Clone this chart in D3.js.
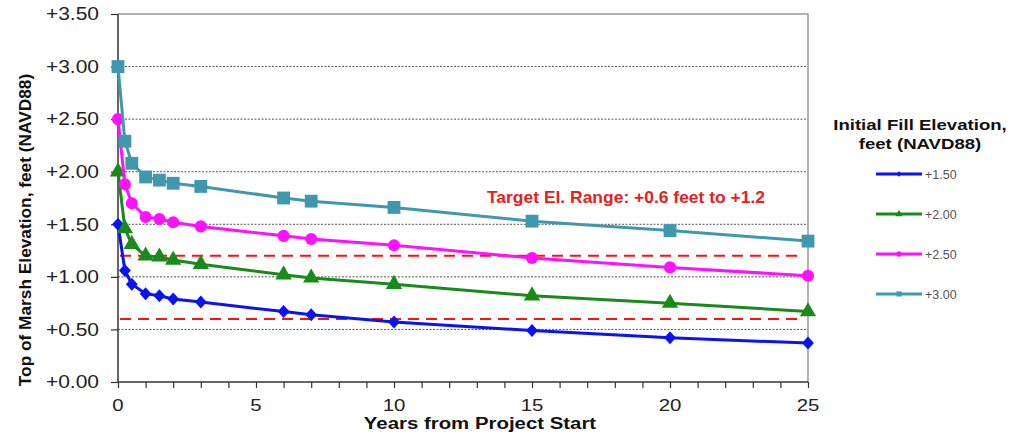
<!DOCTYPE html>
<html><head><meta charset="utf-8">
<script src="https://cdn.jsdelivr.net/npm/d3@7"></script>
<style>
html,body{margin:0;padding:0;background:#fff;}
svg{display:block;font-family:"Liberation Sans",Arial,sans-serif;}
</style></head>
<body>
<svg id="chart" width="1011" height="434"></svg>
<script>
const years = [0, 0.25, 0.5, 1, 1.5, 2, 3, 6, 7, 10, 15, 20, 25];
const fill150 = [1.50, 1.06, 0.93, 0.84, 0.82, 0.79, 0.76, 0.67, 0.64, 0.57, 0.49, 0.42, 0.37];
const fill200 = [2.00, 1.46, 1.31, 1.20, 1.19, 1.16, 1.12, 1.02, 0.99, 0.93, 0.82, 0.75, 0.67];
const fill250 = [2.50, 1.88, 1.70, 1.57, 1.55, 1.52, 1.48, 1.39, 1.36, 1.30, 1.18, 1.09, 1.01];
const fill300 = [3.00, 2.29, 2.08, 1.95, 1.92, 1.89, 1.86, 1.75, 1.72, 1.66, 1.53, 1.44, 1.34];
const seriesNames = ["+1.50", "+2.00", "+2.50", "+3.00"];
const targetLevels = [0.6, 1.2];
const yTicks = [0, 0.5, 1, 1.5, 2, 2.5, 3, 3.5];
const xTicks = [0, 5, 10, 15, 20, 25];
const annotation = "Target El. Range: +0.6 feet to +1.2";
const xTitle = "Years from Project Start";
const yTitle = "Top of Marsh Elevation, feet (NAVD88)";
const legendTitle = ["Initial Fill Elevation,", "feet (NAVD88)"];

const seriesData = [fill150, fill200, fill250, fill300];
const colors = ["#0a14f0", "#1a8a1a", "#ff10ff", "#3f98ae"];
const shapes = [d3.symbolSquare, d3.symbolTriangle, d3.symbolCircle, d3.symbolSquare];
const sizes = [70, 115, 115, 165];
const legendSizes = [14, 24, 24, 26];
const SX = 1.2;

const svg = d3.select("#chart");
const x = d3.scaleLinear().domain([0, 25]).range([118, 808]);
const y = d3.scaleLinear().domain([0, 3.5]).range([382, 14]);

// gridlines
svg.append("g").selectAll("line").data(yTicks.filter(v => v > 0 && v < 3.5)).join("line")
  .attr("x1", x(0)).attr("x2", x(25)).attr("y1", d => y(d)).attr("y2", d => y(d))
  .attr("stroke", "#555").attr("stroke-width", 1).attr("stroke-dasharray", "2,1.5");
// border top/right
svg.append("path").attr("d", `M${x(0)},${y(3.5)}H${x(25)}V${y(0)}`)
  .attr("fill", "none").attr("stroke", "#999").attr("stroke-width", 1.5);

// axes
const yAxis = svg.append("g").attr("transform", `translate(${x(0)},0)`)
  .call(d3.axisLeft(y).tickValues(yTicks).tickSize(7).tickFormat(""));
const xAxis = svg.append("g").attr("transform", `translate(0,${y(0)})`)
  .call(d3.axisBottom(x).ticks(25).tickSize(6).tickFormat(""));
[yAxis, xAxis].forEach(a => {
  a.select(".domain").attr("stroke", "#333").attr("stroke-width", 1.5);
  a.selectAll(".tick line").attr("stroke", "#333").attr("stroke-width", 1.2);
});
xAxis.select(".domain").attr("d", `M${x(0)},0H${x(25)}`);
yAxis.select(".domain").attr("d", `M0,${y(0)}V${y(3.5)}`);

// tick labels (stretched horizontally as in reference)
svg.append("g").selectAll("text").data(yTicks).join("text")
  .attr("transform", d => `translate(99,${y(d) + 6.3}) scale(${SX},1)`)
  .attr("text-anchor", "end").attr("font-size", 17.5).attr("fill", "#222")
  .text(d => "+" + d.toFixed(2));
svg.append("g").selectAll("text").data(xTicks).join("text")
  .attr("transform", d => `translate(${x(d)},410.5) scale(${SX},1)`)
  .attr("text-anchor", "middle").attr("font-size", 17).attr("fill", "#222")
  .text(d => d);

// axis titles
svg.append("text").attr("transform", `translate(480,429) scale(${SX},1)`)
  .attr("text-anchor", "middle").attr("font-size", 17).attr("font-weight", "bold").attr("fill", "#111")
  .text(xTitle);
svg.append("text").attr("transform", `translate(31,230) rotate(-90)`)
  .attr("text-anchor", "middle").attr("font-size", 17.3).attr("font-weight", "bold").attr("fill", "#111")
  .text(yTitle);

// target lines
svg.append("g").selectAll("line").data(targetLevels).join("line")
  .attr("x1", x(0) + 2).attr("x2", x(25) - 6).attr("y1", d => y(d)).attr("y2", d => y(d))
  .attr("stroke", "#ff1010").attr("stroke-width", 2).attr("stroke-dasharray", "11,7");

svg.append("text").attr("x", 487).attr("y", 202.5)
  .attr("font-size", 16.5).attr("font-weight", "bold").attr("fill", "#e8201c")
  .attr("textLength", 278).attr("lengthAdjust", "spacingAndGlyphs")
  .text(annotation);

// series
const line = d3.line().x((d, i) => x(years[i])).y(d => y(d));
seriesData.forEach((vals, s) => {
  const g = svg.append("g");
  g.append("path").datum(vals).attr("d", line)
    .attr("fill", "none").attr("stroke", colors[s]).attr("stroke-width", 3);
  g.selectAll("path.m").data(vals).join("path").attr("class", "m")
    .attr("transform", (d, i) => `translate(${x(years[i])},${y(d)})${s === 0 ? " scale(1,1.1) rotate(45)" : ""}`)
    .attr("d", d3.symbol().type(shapes[s]).size(sizes[s]))
    .attr("fill", colors[s]);
});

// legend
const lg = svg.append("g");
legendTitle.forEach((t, i) => {
  lg.append("text").attr("transform", `translate(920,${130 + i * 19}) scale(${SX},1)`)
    .attr("text-anchor", "middle").attr("font-size", 15.5).attr("font-weight", "bold").attr("fill", "#111")
    .text(t);
});
seriesNames.forEach((name, s) => {
  const yy = 174 + s * 40;
  lg.append("line").attr("x1", 876).attr("x2", 922).attr("y1", yy).attr("y2", yy)
    .attr("stroke", colors[s]).attr("stroke-width", 3.2);
  lg.append("path").attr("transform", `translate(899,${yy})${s === 0 ? " rotate(45)" : ""}`)
    .attr("d", d3.symbol().type(shapes[s]).size(legendSizes[s])).attr("fill", colors[s]);
  lg.append("text").attr("x", 925).attr("y", yy + 4.5)
    .attr("font-size", 12.5).attr("fill", "#555").text(name);
});
</script>
</body></html>
